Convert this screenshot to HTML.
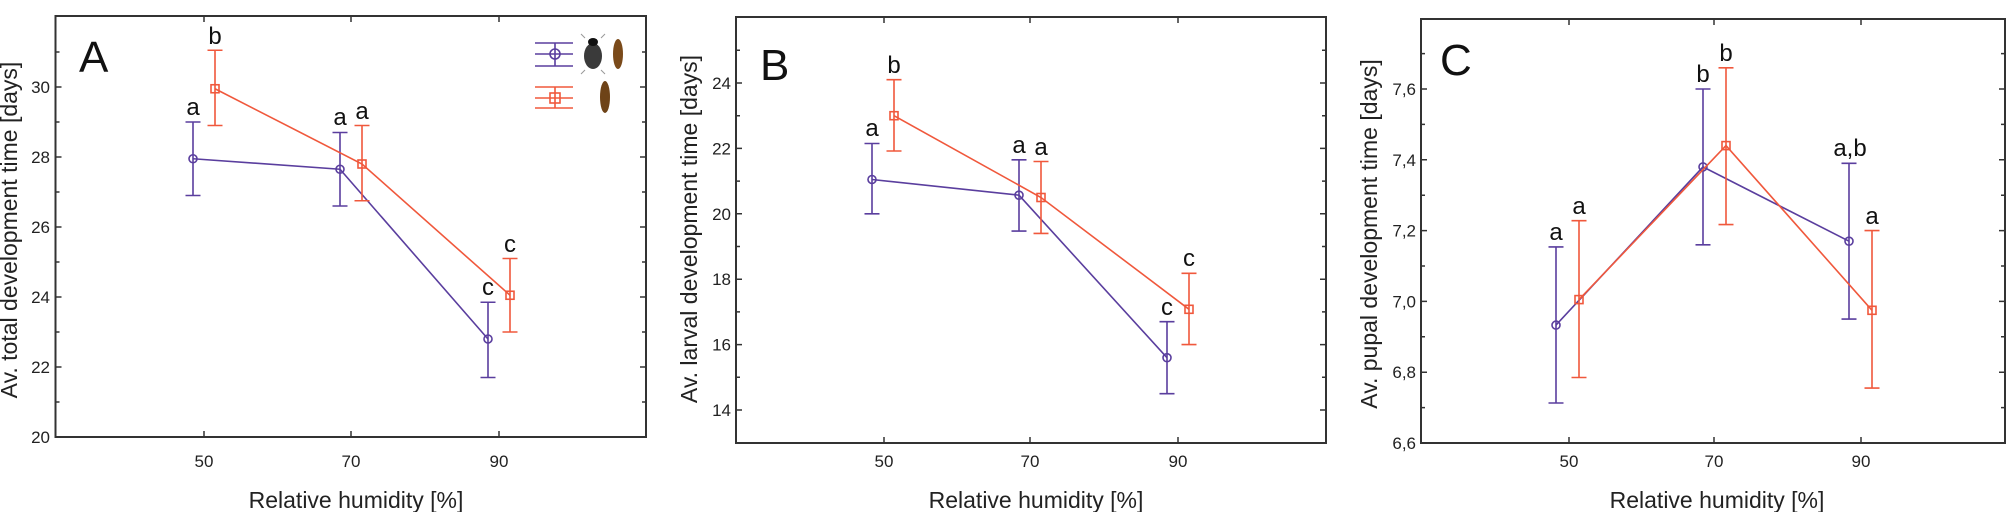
<!DOCTYPE html>
<html><head><meta charset="utf-8"><style>
html,body{margin:0;padding:0;background:#fff;}
svg{display:block;font-family:"Liberation Sans",Arial,sans-serif;}
.fr{fill:none;stroke:#333;stroke-width:2}
.tk{stroke:#333;stroke-width:1.5}
.tl{font-size:17px;fill:#222;text-anchor:end}
.xl{font-size:17px;fill:#222;text-anchor:middle}
.al{font-size:23px;fill:#222;text-anchor:middle}
.lt{font-size:24px;fill:#111;text-anchor:middle}
.pn{font-size:44px;fill:#111}
.p{stroke:#5a3e9e;stroke-width:1.6;fill:none}
.o{stroke:#f0583c;stroke-width:1.6;fill:none}
</style></head><body>
<svg width="2008" height="512" viewBox="0 0 2008 512" xmlns="http://www.w3.org/2000/svg">
<rect width="2008" height="512" fill="#fff"/>

<!-- ================= PANEL A ================= -->
<rect class="fr" x="55.5" y="16" width="590.5" height="421"/>
<g class="tk">
<path d="M55.5 437h6M55.5 402h4M55.5 367h6M55.5 332h4M55.5 297h6M55.5 262h4M55.5 227h6M55.5 192h4M55.5 157h6M55.5 122h4M55.5 87h6M55.5 52h4
M646 437h-6M646 402h-4M646 367h-6M646 332h-4M646 297h-6M646 262h-4M646 227h-6M646 192h-4M646 157h-6M646 122h-4M646 87h-6M646 52h-4
M204 437v-6M351 437v-6M499 437v-6M204 16v6M351 16v6M499 16v6"/>
</g>
<text class="tl" x="50" y="443">20</text><text class="tl" x="50" y="373">22</text><text class="tl" x="50" y="303">24</text>
<text class="tl" x="50" y="233">26</text><text class="tl" x="50" y="163">28</text><text class="tl" x="50" y="93">30</text>
<text class="xl" x="204" y="467">50</text><text class="xl" x="351" y="467">70</text><text class="xl" x="499" y="467">90</text>
<text class="al" x="356" y="508">Relative humidity [%]</text>
<text class="al" transform="translate(17 230) rotate(-90)">Av. total development time [days]</text>
<text class="pn" x="79" y="72">A</text>
<path class="p" d="M193 158.75L340 169.25L488 339"/>
<path class="p" d="M193 195.5V122M185.5 195.5h15M185.5 122h15 M340 206V132.5M332.5 206h15M332.5 132.5h15 M488 377.5V302.25M480.5 377.5h15M480.5 302.25h15"/>
<circle class="p" cx="193" cy="158.75" r="4"/><circle class="p" cx="340" cy="169.25" r="4"/><circle class="p" cx="488" cy="339" r="4"/>
<path class="o" d="M215 88.75L362 164L510 295.25"/>
<path class="o" d="M215 125.5V50.25M207.5 125.5h15M207.5 50.25h15 M362 200.75V125.5M354.5 200.75h15M354.5 125.5h15 M510 332V258.5M502.5 332h15M502.5 258.5h15"/>
<rect class="o" x="211" y="84.75" width="8" height="8"/><rect class="o" x="358" y="160" width="8" height="8"/><rect class="o" x="506" y="291.25" width="8" height="8"/>
<text class="lt" x="193" y="115">a</text><text class="lt" x="215" y="44">b</text>
<text class="lt" x="340" y="125">a</text><text class="lt" x="362" y="119">a</text>
<text class="lt" x="488" y="295">c</text><text class="lt" x="510" y="252">c</text>
<path class="p" d="M535 43h38M535 54h38M535 66h38M555 43v23"/><circle class="p" cx="555" cy="54" r="5"/>
<path class="o" d="M535 87h38M535 98h38M535 108h38M555 87v21"/><rect class="o" x="550" y="93" width="10" height="10"/>
<ellipse cx="593" cy="56" rx="9" ry="13" fill="#3a3a3a"/><ellipse cx="593" cy="42" rx="5" ry="4" fill="#111"/>
<path d="M585 38l-4-4M601 38l4-4M585 70l-4 4M601 70l4 4" stroke="#999" stroke-width="1"/>
<ellipse cx="618" cy="54" rx="5" ry="15" fill="#7a4a1a"/>
<ellipse cx="605" cy="97" rx="5" ry="16" fill="#6e4318"/>

<!-- ================= PANEL B ================= -->
<rect class="fr" x="736" y="17" width="590" height="426"/>
<g class="tk">
<path d="M736 410h6M736 377.3h4M736 344.6h6M736 311.9h4M736 279.2h6M736 246.5h4M736 213.8h6M736 181.1h4M736 148.4h6M736 115.7h4M736 83h6M736 50.3h4
M1326 410h-6M1326 377.3h-4M1326 344.6h-6M1326 311.9h-4M1326 279.2h-6M1326 246.5h-4M1326 213.8h-6M1326 181.1h-4M1326 148.4h-6M1326 115.7h-4M1326 83h-6M1326 50.3h-4
M884 443v-6M1030 443v-6M1178 443v-6M884 17v6M1030 17v6M1178 17v6"/>
</g>
<text class="tl" x="731" y="416">14</text><text class="tl" x="731" y="350.6">16</text><text class="tl" x="731" y="285.2">18</text>
<text class="tl" x="731" y="219.8">20</text><text class="tl" x="731" y="154.4">22</text><text class="tl" x="731" y="89">24</text>
<text class="xl" x="884" y="467">50</text><text class="xl" x="1030" y="467">70</text><text class="xl" x="1178" y="467">90</text>
<text class="al" x="1036" y="508">Relative humidity [%]</text>
<text class="al" transform="translate(697 229) rotate(-90)">Av. larval development time [days]</text>
<text class="pn" x="760" y="80">B</text>
<path class="p" d="M872 179.5L1019 195.2L1167 357.7"/>
<path class="p" d="M872 213.8V143.5M864.5 213.8h15M864.5 143.5h15 M1019 231.1V159.8M1011.5 231.1h15M1011.5 159.8h15 M1167 393.7V321.7M1159.5 393.7h15M1159.5 321.7h15"/>
<circle class="p" cx="872" cy="179.5" r="4"/><circle class="p" cx="1019" cy="195.2" r="4"/><circle class="p" cx="1167" cy="357.7" r="4"/>
<path class="o" d="M894 115.7L1041 197.5L1189 309.3"/>
<path class="o" d="M894 151V79.7M886.5 151h15M886.5 79.7h15 M1041 233.4V161.5M1033.5 233.4h15M1033.5 161.5h15 M1189 344.6V273.3M1181.5 344.6h15M1181.5 273.3h15"/>
<rect class="o" x="890" y="111.7" width="8" height="8"/><rect class="o" x="1037" y="193.5" width="8" height="8"/><rect class="o" x="1185" y="305.3" width="8" height="8"/>
<text class="lt" x="872" y="136">a</text><text class="lt" x="894" y="73">b</text>
<text class="lt" x="1019" y="153">a</text><text class="lt" x="1041" y="155">a</text>
<text class="lt" x="1167" y="315">c</text><text class="lt" x="1189" y="266">c</text>

<!-- ================= PANEL C ================= -->
<rect class="fr" x="1421" y="19" width="584" height="424"/>
<g class="tk">
<path d="M1421 443h6M1421 407.6h4M1421 372.2h6M1421 336.8h4M1421 301.4h6M1421 266h4M1421 230.6h6M1421 195.2h4M1421 159.8h6M1421 124.4h4M1421 89h6M1421 53.6h4
M2005 443h-6M2005 407.6h-4M2005 372.2h-6M2005 336.8h-4M2005 301.4h-6M2005 266h-4M2005 230.6h-6M2005 195.2h-4M2005 159.8h-6M2005 124.4h-4M2005 89h-6M2005 53.6h-4
M1569 443v-6M1714 443v-6M1861 443v-6M1569 19v6M1714 19v6M1861 19v6"/>
</g>
<text class="tl" x="1416" y="449">6,6</text><text class="tl" x="1416" y="378.2">6,8</text><text class="tl" x="1416" y="307.4">7,0</text>
<text class="tl" x="1416" y="236.6">7,2</text><text class="tl" x="1416" y="165.8">7,4</text><text class="tl" x="1416" y="95">7,6</text>
<text class="xl" x="1569" y="467">50</text><text class="xl" x="1714" y="467">70</text><text class="xl" x="1861" y="467">90</text>
<text class="al" x="1717" y="508">Relative humidity [%]</text>
<text class="al" transform="translate(1377 234) rotate(-90)">Av. pupal development time [days]</text>
<text class="pn" x="1440" y="75">C</text>
<path class="p" d="M1556 325.1L1703 166.9L1849 241.2"/>
<path class="p" d="M1556 403V246.9M1548.5 403h15M1548.5 246.9h15 M1703 244.8V89M1695.5 244.8h15M1695.5 89h15 M1849 319.1V163.3M1841.5 319.1h15M1841.5 163.3h15"/>
<circle class="p" cx="1556" cy="325.1" r="4"/><circle class="p" cx="1703" cy="166.9" r="4"/><circle class="p" cx="1849" cy="241.2" r="4"/>
<path class="o" d="M1579 299.6L1726 145.6L1872 310.3"/>
<path class="o" d="M1579 377.5V220.7M1571.5 377.5h15M1571.5 220.7h15 M1726 224.6V67.8M1718.5 224.6h15M1718.5 67.8h15 M1872 388.1V230.6M1864.5 388.1h15M1864.5 230.6h15"/>
<rect class="o" x="1575" y="295.6" width="8" height="8"/><rect class="o" x="1722" y="141.6" width="8" height="8"/><rect class="o" x="1868" y="306.3" width="8" height="8"/>
<text class="lt" x="1556" y="240">a</text><text class="lt" x="1579" y="214">a</text>
<text class="lt" x="1703" y="82">b</text><text class="lt" x="1726" y="61">b</text>
<text class="lt" x="1850" y="156">a,b</text><text class="lt" x="1872" y="224">a</text>
</svg>
</body></html>
